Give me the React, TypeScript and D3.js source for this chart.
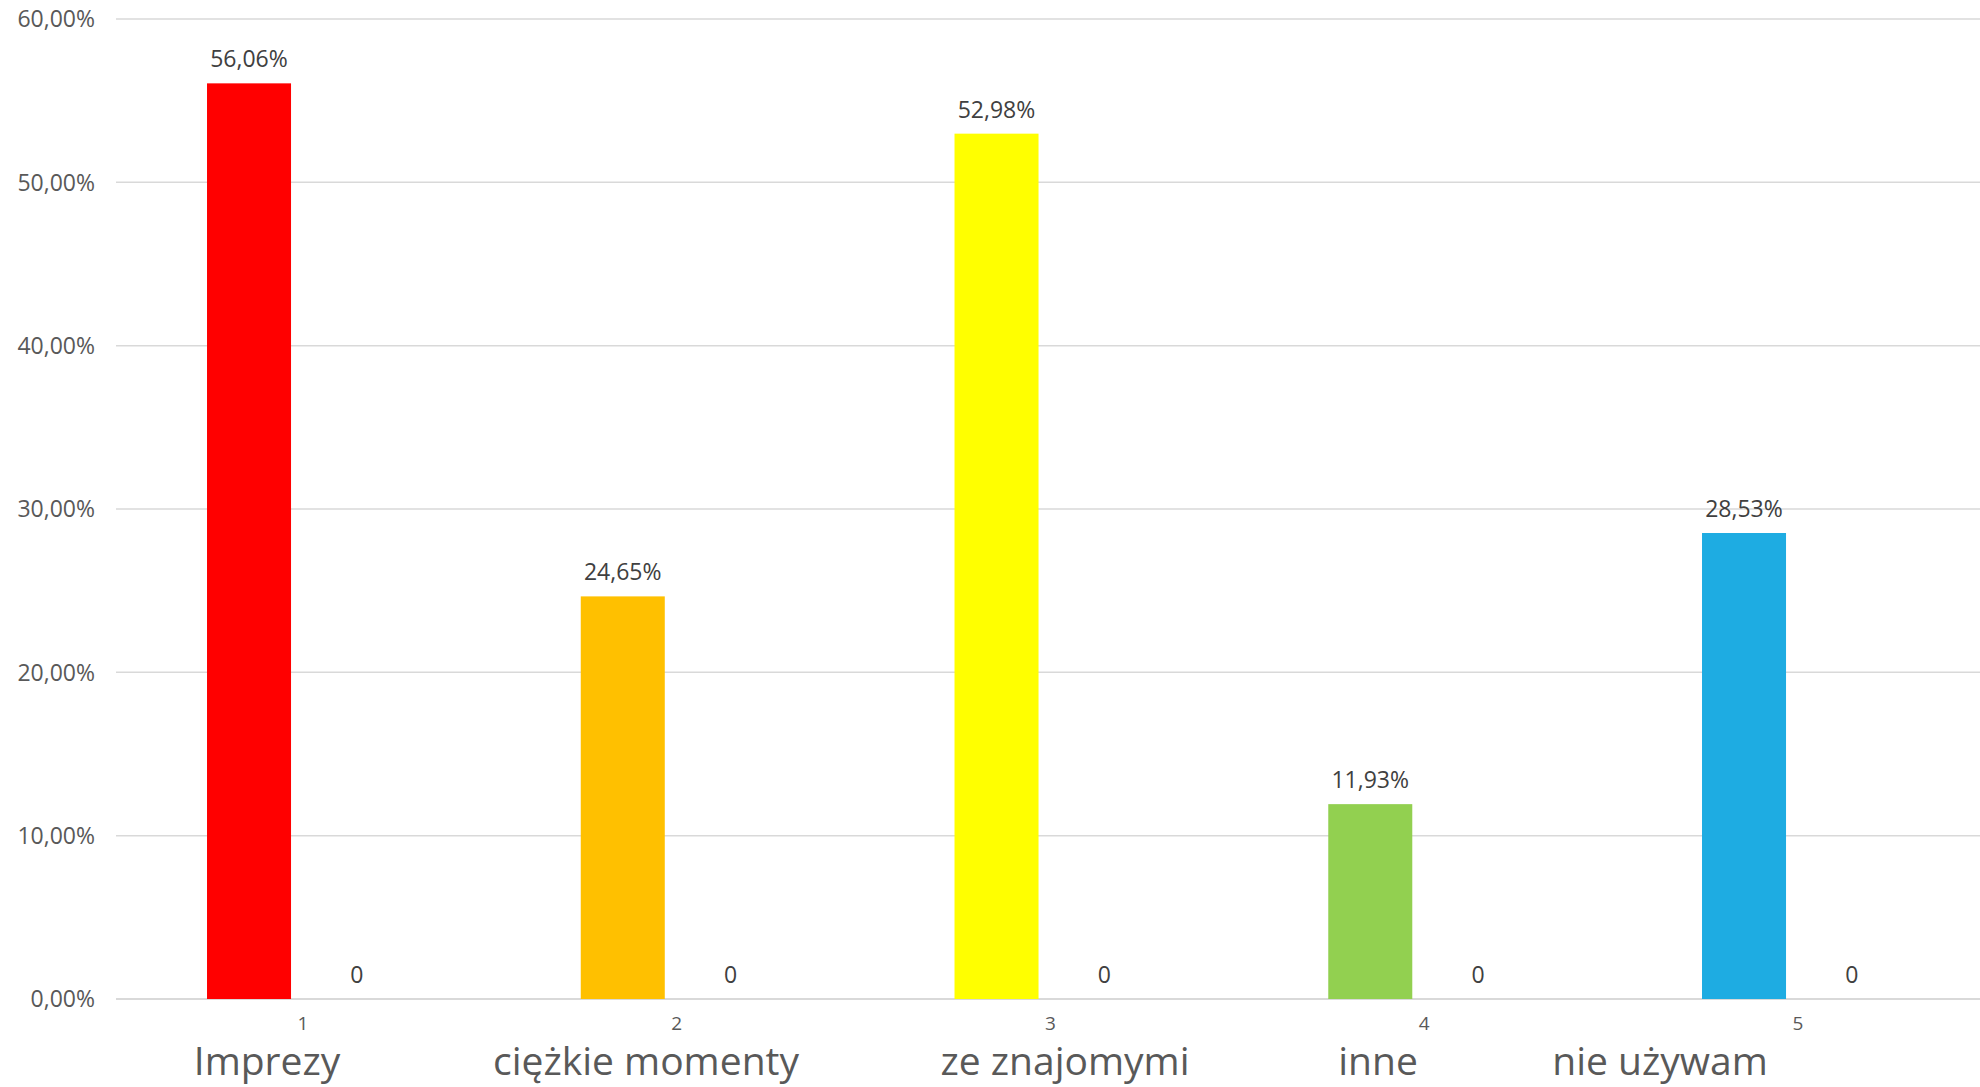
import React from "react";
import * as d3 from "d3";

const categories = ["1", "2", "3", "4", "5"];
const seriesPct = [0.5606, 0.2465, 0.5298, 0.1193, 0.2853];
const seriesZero = [0, 0, 0, 0, 0];
const barColors = ["#FF0000", "#FFC000", "#FFFF00", "#92D050", "#1EACE2"];
const yTicks = [0, 0.1, 0.2, 0.3, 0.4, 0.5, 0.6];
const categoryNames = ["Imprezy", "ciężkie momenty", "ze znajomymi", "inne", "nie używam"];

const W = 1980;
const H = 1087;
const FONT = "'Open Sans', 'DejaVu Sans', sans-serif";

export default function App() {
  const x = d3.scaleBand<string>().domain(categories).range([116, 116 + 5 * 373.75]).padding(0);
  const inner = d3
    .scaleBand<string>()
    .domain(["pct", "zero"])
    .range([0, x.bandwidth()])
    .paddingInner(0.22)
    .paddingOuter(0.845);
  const y = d3.scaleLinear().domain([0, 0.6]).range([999, 19]);
  const fmt = (v: number) => (v * 100).toFixed(2).replace(".", ",") + "%";
  const nameCenters = [267, 646, 1065, 1378, 1660];

  return (
    <svg
      width={W}
      height={H}
      style={{ position: "absolute", left: 0, top: 0, background: "#fff" }}
      fontFamily={FONT}
    >
      {yTicks.map((t) => (
        <g key={t}>
          <line x1={116} x2={W} y1={y(t)} y2={y(t)} stroke="#D9D9D9" strokeWidth={t === 0 ? 2 : 1.5} />
          <text x={95} y={y(t)} dy="0.36em" textAnchor="end" fontSize={23} fill="#595959">
            {fmt(t)}
          </text>
        </g>
      ))}
      {categories.map((c, i) => {
        const x0 = x(c)!;
        const bx = x0 + inner("pct")!;
        const zx = x0 + inner("zero")!;
        const bw = inner.bandwidth();
        return (
          <g key={c}>
            <rect x={bx} y={y(seriesPct[i])} width={bw} height={y(0) - y(seriesPct[i])} fill={barColors[i]} />
            <text x={bx + bw / 2} y={y(seriesPct[i]) - 16} textAnchor="middle" fontSize={23} fill="#404040">
              {fmt(seriesPct[i])}
            </text>
            <text x={zx + bw / 2} y={y(seriesZero[i]) - 16} textAnchor="middle" fontSize={23} fill="#404040">
              {seriesZero[i]}
            </text>
            <text x={x0 + x.bandwidth() / 2} y={1030} textAnchor="middle" fontSize={19} fill="#595959">
              {c}
            </text>
            <text x={nameCenters[i]} y={1075} textAnchor="middle" fontSize={39} fill="#595959">
              {categoryNames[i]}
            </text>
          </g>
        );
      })}
    </svg>
  );
}
